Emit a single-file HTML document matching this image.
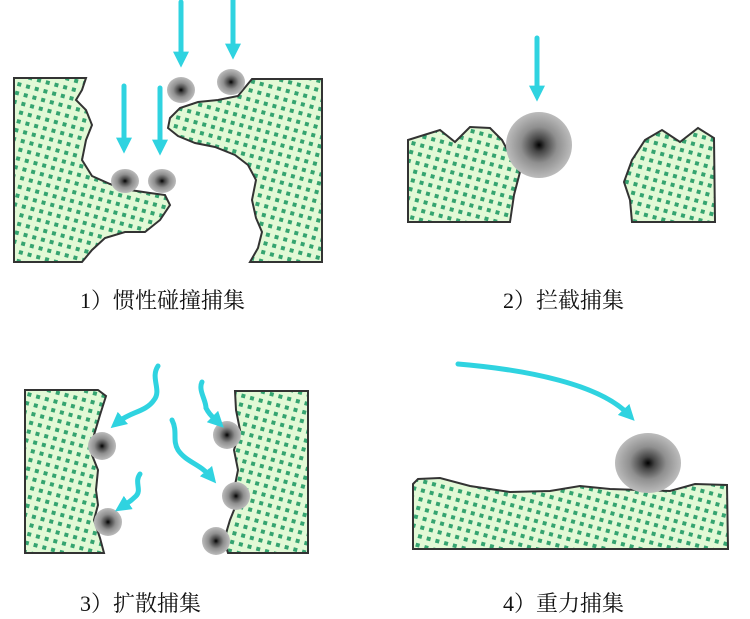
<!DOCTYPE html>
<html><head><meta charset="utf-8">
<style>
html,body{margin:0;padding:0;background:#fff;}
svg{display:block;}
text{font-family:"Liberation Serif","Noto Serif CJK SC",serif;font-size:22px;fill:#111;}
</style></head>
<body>
<svg width="750" height="619" viewBox="0 0 750 619" xmlns="http://www.w3.org/2000/svg">
<defs>
<pattern id="dots" width="9" height="9" patternUnits="userSpaceOnUse" patternTransform="rotate(15)">
<rect width="9" height="9" fill="#e2f9d6"/>
<rect x="2.5" y="2.5" width="4" height="4" fill="#35a470"/>
</pattern>
<radialGradient id="pg">
<stop offset="0" stop-color="#000"/>
<stop offset="0.2" stop-color="#444"/>
<stop offset="0.55" stop-color="#8f8f8f"/>
<stop offset="1" stop-color="#bcbcbc"/>
</radialGradient>
<marker id="ah" viewBox="0 0 10 10" refX="4" refY="5" markerWidth="3.2" markerHeight="3.2" orient="auto">
<path d="M0,0 L10,5 L0,10 z" fill="#2fd3e0"/>
</marker>
</defs>

<g stroke="#333" stroke-width="2" fill="url(#dots)">
<path d="M14,78 L86,78 L82,90 L76,100 L86,110 L92,125 L86,140 L82,160 L92,176 L110,184 L130,190 L150,193 L165,195 L170,205 L160,220 L145,232 L125,232 L105,238 L92,250 L82,262 L14,262 Z"/>
<path d="M252,79 L322,79 L322,262 L250,262 L258,248 L262,232 L256,218 L252,200 L256,180 L248,165 L235,155 L215,147 L195,143 L178,136 L168,128 L170,118 L180,108 L198,102 L218,100 L238,96 Z"/>
<path d="M408,140 L440,130 L455,142 L470,127 L490,128 L502,140 L510,155 L520,172 L514,195 L510,222 L408,222 Z"/>
<path d="M624,182 L632,160 L645,140 L662,130 L680,142 L698,128 L714,138 L715,222 L632,222 L630,200 Z"/>
<path d="M25,390 L98,390 L106,396 L100,415 L94,435 L92,455 L98,470 L96,490 L98,505 L94,520 L100,538 L104,553 L25,553 Z"/>
<path d="M235,391 L308,391 L308,553 L228,553 L224,540 L230,520 L236,505 L234,490 L238,470 L234,450 L240,430 L236,410 Z"/>
<path d="M413,484 L418,479 L440,478 L470,486 L510,492 L550,491 L580,486 L610,489 L640,490 L670,491 L695,484 L727,485 L728,549 L413,549 Z"/>
</g>

<g fill="url(#pg)">
<ellipse cx="181" cy="90" rx="14" ry="13"/>
<ellipse cx="231" cy="82" rx="14" ry="13"/>
<ellipse cx="125" cy="181" rx="14" ry="12"/>
<ellipse cx="162" cy="181" rx="14" ry="12"/>
<circle cx="539" cy="145" r="33"/>
<circle cx="102" cy="446" r="14"/>
<circle cx="108" cy="522" r="14"/>
<circle cx="227" cy="435" r="14"/>
<circle cx="236" cy="496" r="14"/>
<circle cx="216" cy="541" r="14"/>
<ellipse cx="648" cy="463" rx="33" ry="30"/>
</g>

<g stroke="#2fd3e0" stroke-width="5" fill="none" marker-end="url(#ah)" stroke-linecap="round">
<path d="M181,2 L181,58"/>
<path d="M233,0 L233,50"/>
<path d="M124,86 L124,144"/>
<path d="M160,88 L160,146"/>
<path d="M537,38 L537,92"/>
<path d="M158,366 C150,378 162,390 154,400 C146,412 130,412 118,422"/>
<path d="M202,382 C198,390 206,400 206,408 C210,416 214,418 217,421"/>
<path d="M172,420 C178,432 172,440 178,450 C186,462 200,464 210,476"/>
<path d="M140,474 C134,482 142,490 136,496 C130,502 126,504 123,506"/>
<path d="M458,364 C530,370 600,385 628,414"/>
</g>

<text x="80" y="308">1）惯性碰撞捕集</text>
<text x="503" y="308">2）拦截捕集</text>
<text x="80" y="611">3）扩散捕集</text>
<text x="503" y="611">4）重力捕集</text>
</svg>
</body></html>
